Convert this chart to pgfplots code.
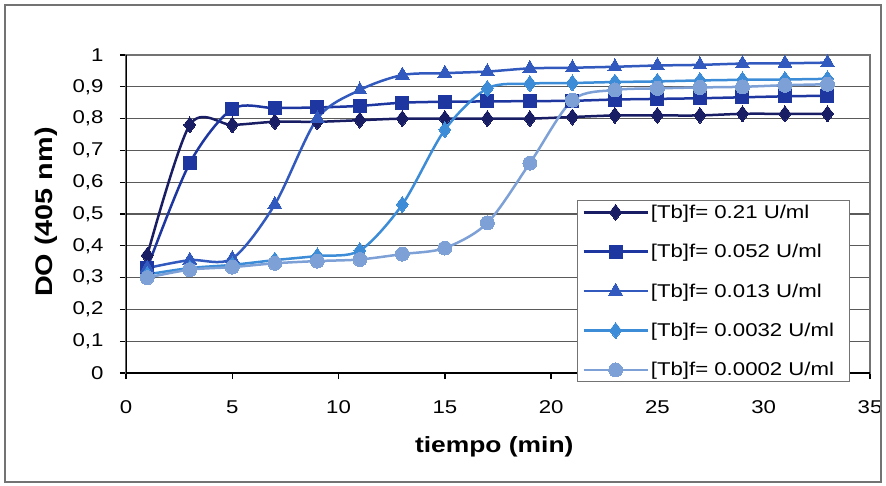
\documentclass[border=0pt]{standalone}
\usepackage{fontspec}
\setmainfont[FakeStretch=1.2]{Liberation Sans}
\usepackage{pgfplots}
\pgfplotsset{compat=1.18}

\definecolor{sA}{RGB}{25,30,100}
\definecolor{sB}{RGB}{30,55,160}
\definecolor{sC}{RGB}{50,90,190}
\definecolor{sD}{RGB}{60,140,215}
\definecolor{sE}{RGB}{125,160,215}
\definecolor{gridc}{RGB}{90,90,90}
\definecolor{framec}{RGB}{115,115,115}

\begin{document}
\begin{tikzpicture}
\path[use as bounding box] (-126pt,-112pt) rectangle (760pt,373pt);
\begin{axis}[
    scale only axis,
    width=744pt, height=318pt,
    xmin=0, xmax=35, ymin=0, ymax=1,
    xtick={0,5,10,15,20,25,30,35},
    ytick={0,0.1,0.2,0.3,0.4,0.5,0.6,0.7,0.8,0.9,1},
    /pgf/number format/assume math mode=true,
    yticklabel style={/pgf/number format/fixed, /pgf/number format/use comma,
        /pgf/number format/precision=1, xshift=-13pt},
    tick label style={font=\fontsize{18.5}{18.5}\selectfont},
    xticklabel style={yshift=-18pt},
    ymajorgrids,
    grid style={line width=1.3pt, color=gridc},
    axis line style={line width=1.3pt, color=framec},
    tick align=outside, major tick length=6pt,
    xtick pos=bottom, ytick pos=left,
    tick style={black, line width=1.3pt},
    xlabel={\bfseries tiempo (min)},
    xlabel style={font=\fontsize{22}{22}\selectfont, at={(axis description cs:0.495,-0.233)}, anchor=center},
    ylabel={\bfseries DO (405 nm)},
    ylabel style={font=\fontsize{24}{24}\selectfont, at={(axis description cs:-0.1075,0.506)}, anchor=center},
    every axis plot/.append style={line width=2.5pt, smooth},
    legend cell align=left,
    legend image code/.code={\draw[mark repeat=2,mark phase=2,#1] plot coordinates {(0pt,0pt) (32pt,0pt) (64pt,0pt)};},
    legend style={at={(axis description cs:0.606,-0.028)}, anchor=south west,
        draw=framec, line width=1pt, font=\fontsize{18.5}{18.5}\selectfont,
        row sep=20.5pt, inner xsep=5pt, inner ysep=2pt,
        nodes={inner sep=2pt}},
]
\addplot[color=sA, mark=diamond*, mark size=8pt, mark options={line width=0pt}] coordinates {
(1,0.37)(3,0.78)(5,0.78)(7,0.79)(9,0.79)(11,0.795)(13,0.80)(15,0.80)(17,0.80)
(19,0.80)(21,0.805)(23,0.81)(25,0.81)(27,0.81)(29,0.815)(31,0.815)(33,0.815)};
\addplot[color=sB, mark=square*, mark size=6.5pt, mark options={line width=0pt}] coordinates {
(1,0.33)(3,0.66)(5,0.83)(7,0.833)(9,0.835)(11,0.84)(13,0.85)(15,0.853)(17,0.854)
(19,0.855)(21,0.856)(23,0.86)(25,0.862)(27,0.864)(29,0.867)(31,0.87)(33,0.872)};
\addplot[color=sC, mark=triangle*, mark size=8pt, mark options={line width=0pt}] coordinates {
(1,0.33)(3,0.355)(5,0.36)(7,0.53)(9,0.80)(11,0.89)(13,0.937)(15,0.943)(17,0.948)
(19,0.958)(21,0.96)(23,0.963)(25,0.967)(27,0.969)(29,0.973)(31,0.974)(33,0.976)};
\addplot[color=sD, mark=diamond*, mark size=8pt, mark options={line width=0pt}] coordinates {
(1,0.31)(3,0.33)(5,0.34)(7,0.355)(9,0.368)(11,0.385)(13,0.53)(15,0.765)(17,0.895)
(19,0.91)(21,0.912)(23,0.915)(25,0.917)(27,0.92)(29,0.922)(31,0.923)(33,0.925)};
\addplot[color=sE, mark=*, mark size=7pt, mark options={line width=0pt}] coordinates {
(1,0.30)(3,0.325)(5,0.333)(7,0.345)(9,0.352)(11,0.357)(13,0.374)(15,0.393)(17,0.472)
(19,0.66)(21,0.858)(23,0.89)(25,0.895)(27,0.898)(29,0.90)(31,0.905)(33,0.908)};
\legend{{\relax[Tb]f= 0.21 U/ml},{\relax[Tb]f= 0.052 U/ml},{\relax[Tb]f= 0.013 U/ml},{\relax[Tb]f= 0.0032 U/ml},{\relax[Tb]f= 0.0002 U/ml\kern8pt}}
\draw[black, line width=2pt] (rel axis cs:0,1) -- (rel axis cs:0,0) -- (rel axis cs:1,0);
\end{axis}
\draw[framec, line width=1.2pt] (-121pt,-109pt) rectangle (755pt,368pt);
\end{tikzpicture}
\end{document}
